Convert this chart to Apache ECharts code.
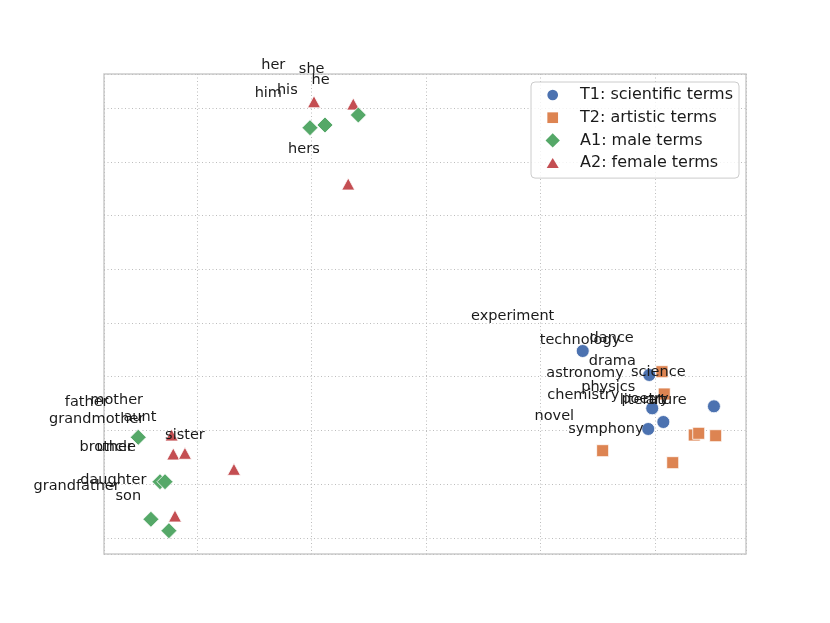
<!DOCTYPE html>
<html>
<head>
<meta charset="utf-8">
<script src="https://cdn.jsdelivr.net/npm/echarts@6/dist/echarts.min.js"></script>
<style>
html, body { margin: 0; padding: 0; background: #fff; }
#chart { width: 830px; height: 623px; }
</style>
</head>
<body>
<div id="chart"></div>
<script>
// projected word positions (one grid cell = 1 unit)
var sciNames = ['technology', 'science', 'physics', 'chemistry', 'astronomy', 'experiment'];
var sciX = [3.369, 3.950, 3.976, 4.073, 3.941, 4.515];
var sciY = [3.479, 3.033, 2.413, 2.158, 2.028, 2.450];

var artNames = ['drama', 'poetry', 'symphony', 'literature', 'art', 'novel', 'dance'];
var artX = [4.061, 4.081, 4.343, 4.382, 4.530, 3.543, 4.155];
var artY = [3.094, 2.679, 1.916, 1.948, 1.903, 1.624, 1.401];

var maleNames = ['he', 'his', 'him', 'father', 'brother', 'uncle', 'son', 'grandfather'];
var maleX = [0.987, 1.118, 1.409, -0.513, -0.323, -0.279, -0.402, -0.245];
var maleY = [7.634, 7.684, 7.870, 1.873, 1.047, 1.047, 0.348, 0.136];

var femaleNames = ['she', 'her', 'hers', 'sister', 'mother', 'aunt', 'grandmother', 'daughter'];
var femaleX = [1.022, 1.365, 1.321, -0.221, -0.207, -0.105, 0.323, -0.192];
var femaleY = [8.117, 8.074, 6.586, 1.916, 1.563, 1.576, 1.278, 0.409];

// word labels (centre of each text)
var wordText = ['father', 'mother', 'grandmother', 'aunt', 'sister', 'brother', 'uncle',
    'daughter', 'grandfather', 'son',
    'experiment', 'technology', 'dance', 'drama', 'astronomy', 'science', 'physics',
    'chemistry', 'poetry', 'literature', 'art', 'novel', 'symphony',
    'her', 'she', 'he', 'him', 'his', 'hers'];
var wordX = [-0.963, -0.701, -0.876, -0.498, -0.105, -0.793, -0.705,
    -0.731, -1.051, -0.600,
    2.757, 3.345, 3.622, 3.627, 3.389, 4.029, 3.592,
    3.374, 3.913, 3.985, 4.009, 3.121, 3.572,
    0.666, 1.002, 1.080, 0.623, 0.789, 0.934];
var wordY = [2.517, 2.567, 2.208, 2.238, 1.916, 1.680, 1.680,
    1.066, 0.967, 0.781,
    4.130, 3.671, 3.715, 3.293, 3.064, 3.083, 2.796,
    2.660, 2.580, 2.554, 2.567, 2.270, 2.028,
    8.787, 8.726, 8.521, 8.273, 8.322, 7.237];

var legendNames = ['T1: scientific terms', 'T2: artistic terms', 'A1: male terms', 'A2: female terms'];
// legend icons drawn inside a 15x15 frame (the two lone moves fix the frame)
var legendIcons = [
    'path://M0,0M15,15M2.15,7.5A5.35,5.35,0,1,1,12.85,7.5A5.35,5.35,0,1,1,2.15,7.5Z',
    'path://M0,0M15,15M2.15,2.15L12.85,2.15L12.85,12.85L2.15,12.85Z',
    'path://M0,0M15,15M7.5,0.35L14.65,7.5L7.5,14.65L0.35,7.5Z',
    'path://M0,0M15,15M7.5,2.5L13.5,12.5L1.5,12.5Z'
];

var font = 'DejaVu Sans';

function pairs(xs, ys, names) {
    return xs.map(function (x, i) {
        return { value: [x, ys[i]], name: names[i] };
    });
}

function markerSeries(name, symbol, size, color, xs, ys, names) {
    return {
        name: name,
        type: 'scatter',
        symbol: symbol,
        symbolSize: size,
        itemStyle: {
            color: color,
            borderColor: '#ffffff',
            borderWidth: 0.8,
            opacity: 1
        },
        data: pairs(xs, ys, names)
    };
}

var myChart = echarts.init(document.getElementById('chart'));

var option = {
    animation: false,
    backgroundColor: '#ffffff',
    textStyle: { fontFamily: font },
    grid: {
        left: 104,
        right: 84,
        top: 74,
        bottom: 69,
        show: true,
        borderColor: '#cccccc',
        borderWidth: 1.5,
        backgroundColor: 'transparent'
    },
    xAxis: {
        type: 'value',
        min: -0.812,
        max: 4.795,
        splitNumber: 5,
        axisLine: { show: false },
        axisTick: { show: false },
        axisLabel: { show: false },
        splitLine: {
            lineStyle: { color: '#bdbdbd', width: 1, type: [1, 2.5] }
        }
    },
    yAxis: {
        type: 'value',
        min: -0.298,
        max: 8.633,
        splitNumber: 8,
        axisLine: { show: false },
        axisTick: { show: false },
        axisLabel: { show: false },
        splitLine: {
            lineStyle: { color: '#bdbdbd', width: 1, type: [1, 2.5] }
        }
    },
    legend: {
        data: legendNames.map(function (n, i) { return { name: n, icon: legendIcons[i] }; }),
        orient: 'vertical',
        left: 531,
        top: 82,
        itemWidth: 15,
        itemHeight: 15,
        itemGap: 6.7,
        padding: [5, 6, 7, 14.2],
        borderColor: '#cccccc',
        borderWidth: 1,
        borderRadius: 4,
        backgroundColor: 'rgba(255,255,255,0.8)',
        itemStyle: { borderWidth: 0 },
        textStyle: {
            fontFamily: font,
            fontSize: 16,
            lineHeight: 16,
            color: '#1a1a1a',
            padding: [0, 0, 0, 14.8]
        }
    },
    series: [
        markerSeries(legendNames[0], 'circle', 13, '#4c72b0', sciX, sciY, sciNames),
        markerSeries(legendNames[1], 'rect', 12, '#dd8452', artX, artY, artNames),
        markerSeries(legendNames[3], 'triangle', [13, 12], '#c44e52', femaleX, femaleY, femaleNames),
        markerSeries(legendNames[2], 'diamond', 16, '#55a868', maleX, maleY, maleNames),
        {
            name: 'words',
            type: 'scatter',
            symbolSize: 1,
            clip: false,
            silent: true,
            z: 5,
            itemStyle: { color: 'rgba(0,0,0,0)' },
            label: {
                show: true,
                position: 'inside',
                fontFamily: font,
                fontSize: 14.5,
                color: '#1a1a1a',
                opacity: 1,
                textBorderWidth: 0,
                textBorderColor: 'transparent',
                formatter: function (p) { return p.value[2]; }
            },
            data: wordX.map(function (x, i) { return [x, wordY[i], wordText[i]]; })
        }
    ]
};

myChart.setOption(option);
</script>
</body>
</html>
